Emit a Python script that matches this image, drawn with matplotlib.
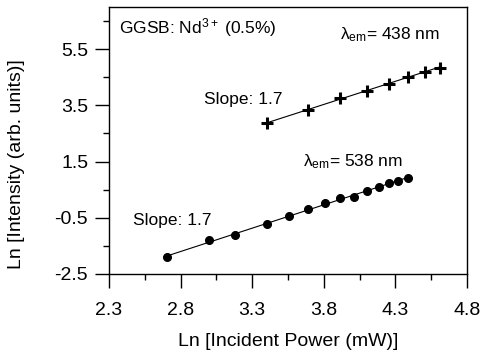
import matplotlib.pyplot as plt
import numpy as np
from matplotlib.ticker import FixedLocator

plt.switch_backend("Agg")
plt.rcParams["font.family"] = ["Liberation Sans", "DejaVu Sans"]
plt.rcParams["mathtext.fontset"] = "custom"
plt.rcParams["mathtext.rm"] = "Liberation Sans"
plt.rcParams["mathtext.it"] = "Liberation Sans:italic"

# 538 nm emission (circles)
x_538 = [2.706, 3.001, 3.177, 3.405, 3.558, 3.690, 3.809, 3.916, 4.013, 4.099, 4.183, 4.257, 4.322, 4.389]
y_538 = [-1.91, -1.29, -1.11, -0.72, -0.43, -0.20, 0.02, 0.19, 0.25, 0.45, 0.60, 0.73, 0.81, 0.92]

# 438 nm emission (crosses)
x_438 = [3.405, 3.690, 3.916, 4.099, 4.257, 4.389, 4.505, 4.610]
y_438 = [2.86, 3.34, 3.77, 4.02, 4.26, 4.52, 4.69, 4.84]

x_ticks = [2.3, 2.8, 3.3, 3.8, 4.3, 4.8]
y_ticks = [-2.5, -0.5, 1.5, 3.5, 5.5]

fig = plt.figure(figsize=(4.85, 3.51), dpi=100)
ax = fig.add_axes([0.2247, 0.2194, 0.738, 0.761])

# linear fits drawn over each data range
for xs, ys in [(x_538, y_538), (x_438, y_438)]:
    k, b = np.polyfit(xs, ys, 1)
    xx = np.array([min(xs), max(xs)])
    ax.plot(xx, k * xx + b, color="black", lw=0.8, zorder=2)

ax.plot(x_538, y_538, "o", color="black", ms=5.5, zorder=3)
ax.plot(x_438, y_438, "+", color="black", ms=8, mew=2.2, zorder=3)

ax.set_xlim(2.3, 4.8)
ax.set_ylim(-2.5, 7.0)
ax.xaxis.set_major_locator(FixedLocator(x_ticks))
ax.xaxis.set_minor_locator(FixedLocator([v + 0.25 for v in x_ticks[:-1]]))
ax.yaxis.set_major_locator(FixedLocator(y_ticks))
ax.yaxis.set_minor_locator(FixedLocator([v + 1.0 for v in y_ticks]))
ax.set_xticklabels([f"{v:.1f}" for v in x_ticks])
ax.set_yticklabels([f"{v:.1f}" for v in y_ticks])

ax.tick_params(which="major", direction="out", length=10, width=1, labelsize=14)
ax.tick_params(which="minor", direction="out", length=4.5, width=1)
ax.tick_params(axis="x", which="major", pad=10)
ax.tick_params(axis="y", which="major", pad=5)
for s in ax.spines.values():
    s.set_linewidth(1.0)

ax.set_xlabel("Ln [Incident Power (mW)]", fontsize=14)
ax.set_ylabel("Ln [Intensity (arb. units)]", fontsize=14)
ax.xaxis.set_label_coords(0.5, -0.221)
ax.yaxis.set_label_coords(-0.235, 0.41)

fs = 12.5
ax.text(2.37, 6.28, r"GGSB: $\mathregular{Nd^{3+}}$ (0.5%)", fontsize=fs, va="center", ha="left")
ax.text(3.913, 6.0, r"$\mathregular{\lambda_{em}}$= 438 nm", fontsize=fs, va="center", ha="left")
ax.text(2.963, 3.69, "Slope: 1.7", fontsize=fs, va="center", ha="left")
ax.text(3.655, 1.48, r"$\mathregular{\lambda_{em}}$= 538 nm", fontsize=fs, va="center", ha="left")
ax.text(2.468, -0.58, "Slope: 1.7", fontsize=fs, va="center", ha="left")

fig.savefig("out.png", dpi=100)
plt.close(fig)
